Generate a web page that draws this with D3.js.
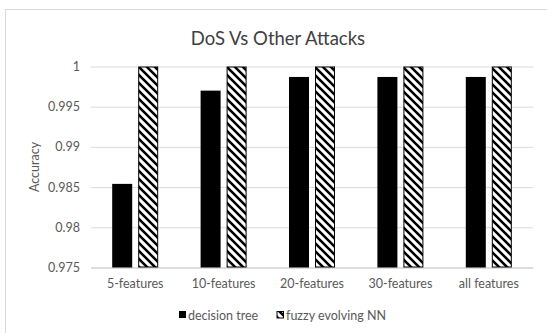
<!DOCTYPE html>
<html>
<head>
<meta charset="utf-8">
<script src="https://cdn.jsdelivr.net/npm/d3@7"></script>
<style>
  html, body { margin: 0; padding: 0; background: #fff; }
  svg { display: block; }
  text { font-family: Lato, "Open Sans", sans-serif; }
</style>
</head>
<body>
<script>
// Chart data
const categories = ["5-features", "10-features", "20-features", "30-features", "all features"];
const decisionTree = [0.9854, 0.997, 0.9987, 0.9987, 0.9987];
const fuzzyEvolvingNN = [1, 1, 1, 1, 1];
const yTicks = [0.975, 0.98, 0.985, 0.99, 0.995, 1];
const seriesNames = ["decision tree", "fuzzy evolving NN"];

const W = 547, H = 333;
const svg = d3.select("body").append("svg").attr("width", W).attr("height", H);

// Diagonal hatch fill
const defs = svg.append("defs");
const pat = defs.append("pattern")
  .attr("id", "hatch")
  .attr("patternUnits", "userSpaceOnUse")
  .attr("width", 8).attr("height", 8);
pat.append("rect").attr("width", 8).attr("height", 8).attr("fill", "#fff");
pat.append("path")
  .attr("d", "M-2,-2 L10,10 M-2,6 L2,10 M6,-2 L10,2")
  .attr("stroke", "#000").attr("stroke-width", 2.6);

// Chart area border
svg.append("rect")
  .attr("x", 5.5).attr("y", 9.5).attr("width", 560).attr("height", 340)
  .attr("fill", "none").attr("stroke", "#d9d9d9").attr("stroke-width", 1);

const plot = { left: 91, right: 533, top: 66.5, bottom: 267.5 };

const x = d3.scaleBand().domain(categories).range([plot.left, plot.right]).padding(0);
const y = d3.scaleLinear().domain([0.975, 1]).range([plot.bottom, plot.top]);

// Gridlines and y tick labels
const yAxis = d3.axisLeft(y).tickValues(yTicks).tickSize(-(plot.right - plot.left))
  .tickPadding(11).tickFormat(d => d3.format("")(+d.toFixed(3)));
const gy = svg.append("g").attr("transform", `translate(${plot.left},0)`).call(yAxis);
gy.select(".domain").remove();
gy.selectAll(".tick line").attr("stroke", "#d9d9d9").attr("stroke-width", 1);
gy.selectAll(".tick text").attr("fill", "#595959").attr("font-size", 12.5);

// x axis baseline and category labels
const xAxis = d3.axisBottom(x).tickSize(0).tickPadding(12);
const gx = svg.append("g").attr("transform", `translate(0,${plot.bottom})`).call(xAxis);
gx.select(".domain").attr("stroke", "#d0d0d0");
gx.selectAll(".tick text").attr("fill", "#595959").attr("font-size", 12.5);

// Bars
const barW = 20, gap = 6;
const cx = c => x(c) + x.bandwidth() / 2;

svg.append("g").selectAll("rect").data(categories).join("rect")
  .attr("x", c => cx(c) - gap / 2 - barW)
  .attr("y", (c, i) => y(decisionTree[i]))
  .attr("width", barW)
  .attr("height", (c, i) => y(0.975) - y(decisionTree[i]))
  .attr("fill", "#000");

svg.append("g").selectAll("rect").data(categories).join("rect")
  .attr("x", c => cx(c) + gap / 2 + 0.5)
  .attr("y", (c, i) => y(fuzzyEvolvingNN[i]) + 0.5)
  .attr("width", barW - 1)
  .attr("height", (c, i) => y(0.975) - y(fuzzyEvolvingNN[i]) - 1)
  .attr("fill", "url(#hatch)")
  .attr("stroke", "#000").attr("stroke-width", 1);

// Title
svg.append("text")
  .attr("x", 278).attr("y", 45)
  .attr("text-anchor", "middle")
  .attr("font-size", 18.5)
  .attr("fill", "#404040")
  .text("DoS Vs Other Attacks");

// Y axis title
svg.append("text")
  .attr("transform", `translate(39,${(plot.top + plot.bottom) / 2}) rotate(-90)`)
  .attr("text-anchor", "middle")
  .attr("font-size", 12.5)
  .attr("fill", "#595959")
  .text("Accuracy");

// Legend
const legend = svg.append("g").attr("transform", "translate(179,315)");
legend.append("rect").attr("x", 0).attr("y", -4).attr("width", 7).attr("height", 7).attr("fill", "#000");
legend.append("text").attr("x", 9).attr("y", 4.5).attr("font-size", 12.5).attr("fill", "#595959").text(seriesNames[0]);
legend.append("rect").attr("x", 98).attr("y", -3.5).attr("width", 6.5).attr("height", 6.5)
  .attr("fill", "url(#hatch)").attr("stroke", "#000").attr("stroke-width", 1);
legend.append("text").attr("x", 107).attr("y", 4.5).attr("font-size", 12.5).attr("fill", "#595959").text(seriesNames[1]);
</script>
</body>
</html>
